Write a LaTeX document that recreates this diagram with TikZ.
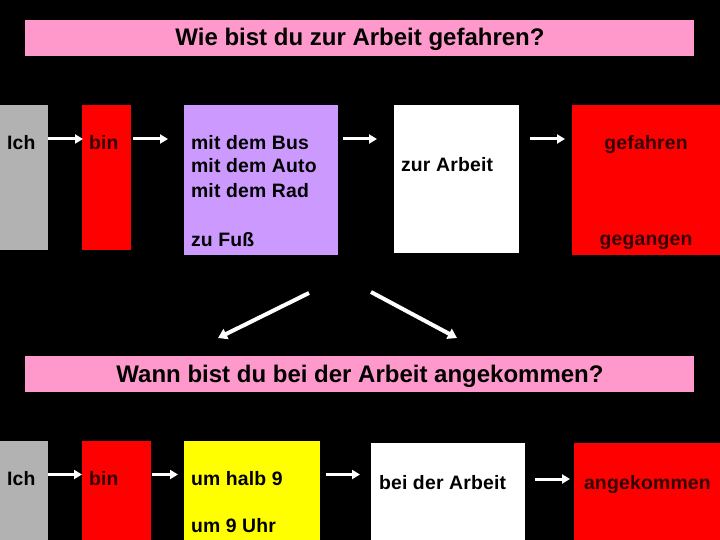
\documentclass[tikz,border=0pt]{standalone}
\usepackage{fontspec}
\setmainfont{Liberation Sans}
\newfontfamily\bodyfont[LetterSpace=1]{Liberation Sans}
\newfontfamily\headfont[LetterSpace=0]{Liberation Sans}
\usetikzlibrary{arrows.meta}
\definecolor{pinkbar}{RGB}{255,153,204}
\definecolor{greybox}{RGB}{178,178,178}
\definecolor{redbox}{RGB}{255,0,0}
\definecolor{purplebox}{RGB}{204,153,255}
\definecolor{yellowbox}{RGB}{255,255,0}
\definecolor{darkred}{RGB}{50,0,0}
\tikzset{
  box/.style={draw=none, inner sep=0pt, outer sep=0pt, anchor=north west},
  txt/.style={inner sep=0pt, outer sep=0pt, text=black, font=\bodyfont\bfseries\fontsize{19.4}{22}\selectfont},
  rtxt/.style={txt, text=darkred},
  head/.style={inner sep=0pt, outer sep=0pt, text=black, anchor=base, font=\headfont\bfseries\fontsize{24}{28}\selectfont},
  arr/.style={draw=white, line width=3pt, -{Triangle[length=8pt,width=9pt]}},
  bigarr/.style={draw=white, line width=4pt, -{Triangle[length=9pt,width=11pt]}}
}
\begin{document}
\begin{tikzpicture}[x=1pt,y=-1pt]
\fill[black] (0,0) rectangle (720,540);
\useasboundingbox (0,0) rectangle (720,540);
% title bars
\node[box, fill=pinkbar, minimum width=669pt, minimum height=36pt] (bar1) at (25,20) {};
\node[box, fill=pinkbar, minimum width=669pt, minimum height=36pt] (bar2) at (25,356) {};
\node[head] (h1) at (360,46) {Wie bist du zur Arbeit gefahren?};
\node[head] (h2) at (360,382.5) {Wann bist du bei der Arbeit angekommen?};
% top row boxes
\node[box, fill=greybox, minimum width=48pt, minimum height=145pt] (ich1) at (0,105) {};
\node[box, fill=redbox, minimum width=49pt, minimum height=145pt] (bin1) at (82,105) {};
\node[box, fill=purplebox, minimum width=154pt, minimum height=150pt] (wie1) at (184,105) {};
\node[box, fill=white, minimum width=125pt, minimum height=148pt] (wo1) at (394,105) {};
\node[box, fill=redbox, minimum width=148pt, minimum height=150pt] (pp1) at (572,105) {};
% bottom row boxes
\node[box, fill=greybox, minimum width=48pt, minimum height=99pt] (ich2) at (0,441) {};
\node[box, fill=redbox, minimum width=69pt, minimum height=99pt] (bin2) at (82,441) {};
\node[box, fill=yellowbox, minimum width=136pt, minimum height=99pt] (wann2) at (184,441) {};
\node[box, fill=white, minimum width=154pt, minimum height=97pt] (wo2) at (371,443) {};
\node[box, fill=redbox, minimum width=146pt, minimum height=97pt] (pp2) at (574,443) {};
% top row texts
\node[txt, anchor=base west] (t1) at (7,150) {Ich};
\node[rtxt, anchor=base west] (t2) at (89,150) {bin};
\node[txt, anchor=base west] (t3) at (191,150) {mit dem Bus};
\node[txt, anchor=base west] (t4) at (191,173) {mit dem Auto};
\node[txt, anchor=base west] (t5) at (191,197) {mit dem Rad};
\node[txt, anchor=base west] (t6) at (191,246) {zu Fuß};
\node[txt, anchor=base west] (t7) at (401,172) {zur Arbeit};
\node[rtxt, anchor=base] (t8) at (646,150) {gefahren};
\node[rtxt, anchor=base] (t9) at (646,245) {gegangen};
% bottom row texts
\node[txt, anchor=base west] (b1) at (7,485) {Ich};
\node[rtxt, anchor=base west] (b2) at (89,485) {bin};
\node[txt, anchor=base west] (b3) at (191,485) {um halb 9};
\node[txt, anchor=base west] (b4) at (191,532) {um 9 Uhr};
\node[txt, anchor=base west] (b5) at (379,489) {bei der Arbeit};
\node[rtxt, anchor=base west] (b6) at (584,489) {angekommen};
% arrow rows
\coordinate (r1) at (0,139);
\coordinate (r2) at (0,474.5);
\coordinate (r3) at (0,479);
\draw[arr] (ich1.east |- r1) -- ([xshift=1pt]bin1.west |- r1);
\draw[arr] ([xshift=2pt]bin1.east |- r1) -- ([xshift=-16pt]wie1.west |- r1);
\draw[arr] ([xshift=5pt]wie1.east |- r1) -- ([xshift=-17pt]wo1.west |- r1);
\draw[arr] ([xshift=11pt]wo1.east |- r1) -- ([xshift=-7pt]pp1.west |- r1);
\draw[arr] (ich2.east |- r2) -- (bin2.west |- r2);
\draw[arr] ([xshift=1pt]bin2.east |- r2) -- ([xshift=-6pt]wann2.west |- r2);
\draw[arr] ([xshift=6pt]wann2.east |- r2) -- ([xshift=-11pt]wo2.west |- r2);
\draw[arr] ([xshift=10pt]wo2.east |- r3) -- ([xshift=-4pt]pp2.west |- r3);
% middle arrows
\coordinate (m1s) at (309,293);
\coordinate (m1e) at (218,338);
\coordinate (m2s) at (371,292);
\coordinate (m2e) at (457,338);
\draw[bigarr] (m1s) -- (m1e);
\draw[bigarr] (m2s) -- (m2e);
\end{tikzpicture}
\end{document}
